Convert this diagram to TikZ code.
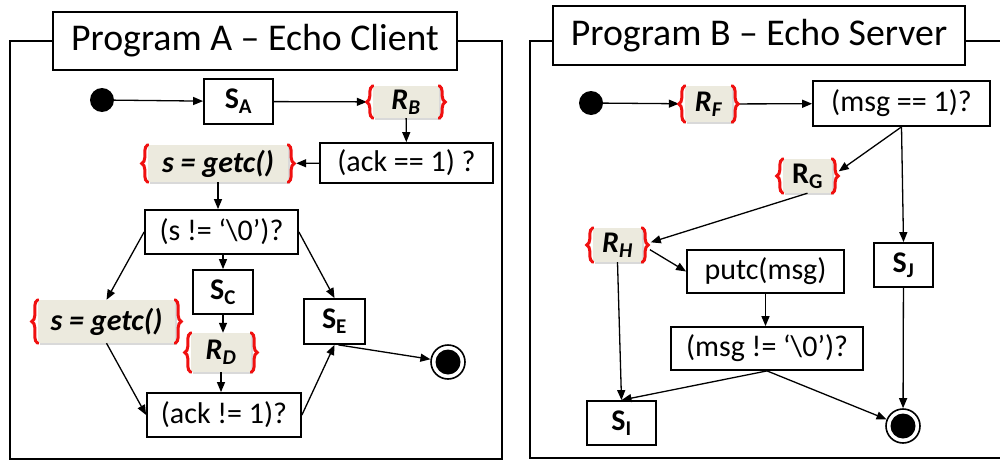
\documentclass[tikz,border=0pt]{standalone}
\usepackage{fontspec}
\setmainfont{Carlito}
\usetikzlibrary{arrows.meta,shadows,decorations.pathreplacing,calc}
\definecolor{codefill}{RGB}{236,234,222}
\definecolor{bracered}{RGB}{240,16,16}

\begin{document}
\begin{tikzpicture}[x=1pt,y=-1pt,
  frame/.style={line width=2pt},
  title/.style={draw,line width=2pt,fill=white,inner sep=0pt,font=\fontsize{37.8}{40}\selectfont},
  sz/.style 2 args={minimum width=#1pt,minimum height=#2pt},
  box/.style={draw,line width=1.8pt,fill=white,inner sep=0pt,font=\fontsize{30}{34}\selectfont},
  sbox/.style={box,font=\fontsize{30}{34}\selectfont\bfseries},
  code/.style={fill=codefill,inner sep=0pt,
    drop shadow={shadow xshift=2pt,shadow yshift=-2pt,opacity=0.3},
    font=\fontsize{30}{34}\selectfont\bfseries\itshape},
  bracepath/.style={draw=bracered,line width=3pt,line cap=round,decorate,decoration={brace,amplitude=6pt}},
  flow/.style={line width=1.3pt,-{Triangle[length=10pt,width=8pt]}},
  initial/.style={circle,fill=black,minimum size=24pt,inner sep=0pt},
  final/.style={circle,draw,line width=1.6pt,fill=white,minimum size=34pt,inner sep=0pt}
]
\useasboundingbox (0,0) rectangle (1000,460);

% ---------- Program A: echo client ----------
\draw[frame] (53,41) -- (10,41) -- (10,459) -- (502,459) -- (502,41) -- (457,41);
\node[title,sz={404}{58}] (tA) at (255,41) {Program A – Echo Client};

\node[initial] (dA) at (102,100) {};
\node[sbox,sz={69}{45}] (sa) at (238.5,101.5) {S\textsubscript{A}};
\node[code,sz={66}{32}] (rb) at (406,102) {R\textsubscript{B}};
\node[box,sz={173}{40}] (ack1) at (406.5,163) {(ack == 1) ?};
\node[code,sz={140}{37}] (ga) at (218,163.5) {s = getc()};
\node[box,sz={153}{44}] (sne) at (221.5,232) {(s != ‘\textbackslash0’)?};
\node[sbox,sz={60}{44}] (sc) at (223,292) {S\textsubscript{C}};
\node[code,sz={60}{39}] (rd) at (221,352.5) {R\textsubscript{D}};
\node[box,sz={154}{44}] (ackn) at (224,415) {(ack != 1)?};
\node[sbox,sz={61}{45}] (se) at (334.5,321.5) {S\textsubscript{E}};
\node[code,sz={137}{43}] (gb) at (106.5,321.5) {s = getc()};
\node[final] (endA) at (448,362) {};
\fill (endA.center) circle (12.5pt);

\draw[flow] (dA) -- (sa);
\draw[flow,shorten >=6pt] (sa) -- (rb);
\draw[flow] (rb) -- (ack1);
\draw[flow,shorten >=8pt] (ack1) -- (ga);
\draw[flow] (ga.south) -- (ga.south |- sne.north);
\draw[flow] (sne.west) -- (gb.north);
\draw[flow] (sc.north |- sne.south) -- (sc.north);
\draw[flow] (sne.east) -- (se.north);
\draw[flow] (sc.south) -- (sc.south |- rd.north);
\draw[flow] (rd.south) -- (rd.south |- ackn.north);
\draw[flow] (gb.south) -- (ackn.west);
\draw[flow] (ackn.east) -- (se.south);
\draw[flow] ($(se.south)+(4,0)$) -- (endA);

% ---------- Program B: echo server ----------
\draw[frame] (553,41) -- (530,41) -- (530,458) -- (1000,458);
\draw[frame] (965,41) -- (1000,41);
\node[title,sz={412}{59}] (tB) at (759,35.5) {Program B – Echo Server};

\node[initial] (dB) at (591,103) {};
\node[code,sz={47}{36}] (rf) at (708.5,104) {R\textsubscript{F}};
\node[box,sz={177}{45}] (m1) at (901.5,103.5) {(msg == 1)?};
\node[code,sz={49}{34},font=\fontsize{30}{34}\selectfont\bfseries] (rg) at (807.5,176) {R\textsubscript{G}};
\node[code,sz={49}{34}] (rh) at (617.5,245) {R\textsubscript{H}};
\node[box,sz={157}{43}] (putc) at (765.5,271.5) {putc(msg)};
\node[box,sz={192}{43}] (mne) at (767,348.5) {(msg != ‘\textbackslash0’)?};
\node[sbox,sz={69}{44}] (si) at (621.5,423) {S\textsubscript{I}};
\node[sbox,sz={59}{44}] (sj) at (903.5,265) {S\textsubscript{J}};
\node[final] (endB) at (903,426) {};
\fill (endB.center) circle (12.5pt);

\draw[flow,shorten >=6pt] (dB) -- (rf);
\draw[flow,shorten <=6pt] (rf) -- (m1);
\draw[flow,shorten >=8pt] (m1.south) -- (rg.east);
\draw[flow] (m1.south) -- (sj.north);
\draw[flow,shorten >=9pt] (rg.south) -- (rh.east);
\draw[flow,shorten <=9pt] (rh.east) -- (putc.west);
\draw[flow] (rh.south) -- (si.north);
\draw[flow] (putc.south) -- (putc.south |- mne.north);
\draw[flow] (mne.south) -- (si.north);
\draw[flow] (mne.south) -- (endB);
\draw[flow] (sj) -- (endB);

% red braces around the highlighted statements
\foreach \n in {rb,ga,gb,rd,rf,rg,rh}{
  \draw[bracepath] (\n.south west) -- (\n.north west);
  \draw[bracepath] (\n.north east) -- (\n.south east);
}
\end{tikzpicture}
\end{document}
